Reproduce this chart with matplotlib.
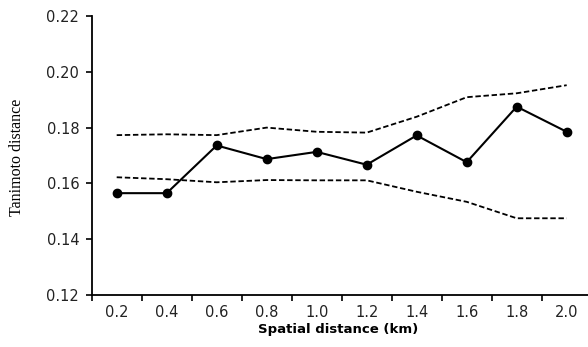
import matplotlib
matplotlib.use("Agg")
import matplotlib.pyplot as plt
import numpy as np

categories = ["0.2", "0.4", "0.6", "0.8", "1.0", "1.2", "1.4", "1.6", "1.8", "2.0"]
observed = [0.1565, 0.1565, 0.1736, 0.1687, 0.1713, 0.1667, 0.1772, 0.1676, 0.1875, 0.1785]
upper = [0.1773, 0.1776, 0.1773, 0.1800, 0.1785, 0.1782, 0.1839, 0.1909, 0.1923, 0.1952]
lower = [0.1622, 0.1615, 0.1604, 0.1612, 0.1611, 0.1611, 0.1570, 0.1534, 0.1475, 0.1475]
yticks = [0.12, 0.14, 0.16, 0.18, 0.20, 0.22]

fig = plt.figure(figsize=(5.88, 3.47), dpi=100)
ax = fig.add_axes([91.7/588, 1-295/347, 500/588, (295-16)/347])

x = np.arange(len(categories))
ax.plot(x, upper, color="black", lw=1.3, ls=(0, (3, 1.5)))
ax.plot(x, lower, color="black", lw=1.3, ls=(0, (3, 1.5)))
ax.plot(x, observed, color="black", lw=1.5, marker="o", ms=6)

ax.set_xlim(-0.5, len(categories) - 0.5)
ax.set_ylim(0.12, 0.22)
ax.set_yticks(yticks)
ax.set_yticklabels([f"{v:.2f}" for v in yticks])
ax.set_xticks(x)
ax.set_xticklabels(categories)
ax.set_xticks(np.arange(len(categories) + 1) - 0.5, minor=True)
ax.tick_params(axis="x", which="major", length=0, pad=7, labelsize=10.5)
ax.tick_params(axis="x", which="minor", length=4, width=1.2, direction="out")
ax.tick_params(axis="y", which="major", length=4, width=1.2, direction="out", pad=5, labelsize=10.5)
for lab in ax.get_xticklabels() + ax.get_yticklabels():
    lab.set_fontfamily("DejaVu Sans")
    lab.set_color("#222222")

for s in ["top", "right"]:
    ax.spines[s].set_visible(False)
for s in ["left", "bottom"]:
    ax.spines[s].set_linewidth(1.3)

fig.text(17/588, 1-157/347, "Tanimoto distance", rotation=90, ha="center", va="center",
         fontsize=11.5, family="Liberation Serif")
fig.text(338/588, 1-329/347, "Spatial distance (km)", ha="center", va="center",
         fontsize=9.5, fontweight="bold", family="DejaVu Sans")

fig.savefig("out.png", dpi=100)
